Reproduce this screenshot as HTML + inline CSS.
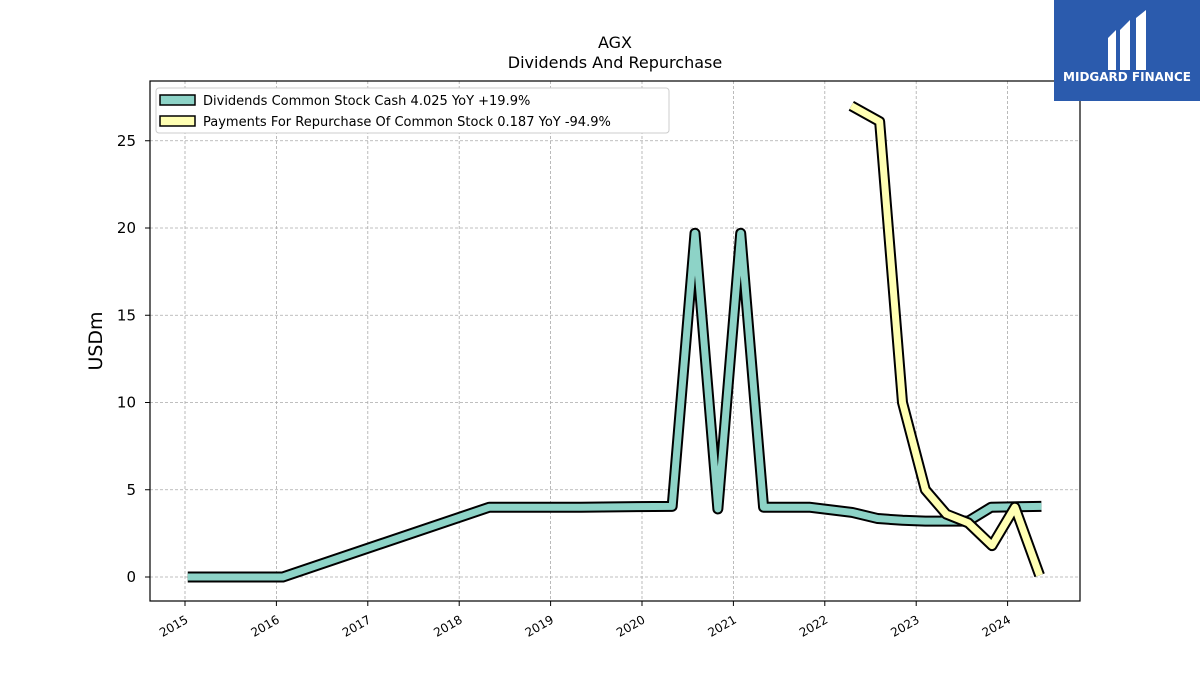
<!DOCTYPE html>
<html><head><meta charset="utf-8"><style>
body{margin:0;background:#fff;}
svg text{font-family:"DejaVu Sans","Liberation Sans",sans-serif;}
</style></head><body>
<svg id="chart" width="1200" height="675" viewBox="0 0 1200 675" xmlns="http://www.w3.org/2000/svg">
<rect width="1200" height="675" fill="#fff"/>
<text x="615" y="48" text-anchor="middle" font-size="16">AGX</text>
<text x="615" y="68" text-anchor="middle" font-size="16">Dividends And Repurchase</text>
<g id="grid"></g>
<g id="series"></g>
<rect x="150" y="81" width="930" height="520" fill="none" stroke="#000" stroke-width="1.2"/>
<g id="axes"></g>
<text transform="translate(102,341) rotate(-90)" text-anchor="middle" font-size="19">USDm</text>
<g>
<rect x="156" y="88" width="513" height="45" rx="3" fill="#fff" stroke="#ccc"/>
<rect x="160" y="95" width="35" height="10" fill="#8dd3c7" stroke="#000" stroke-width="1.5"/>
<text x="203" y="105" font-size="13">Dividends Common Stock Cash  4.025 YoY +19.9%</text>
<rect x="160" y="116" width="35" height="10" fill="#ffffb3" stroke="#000" stroke-width="1.5"/>
<text x="203" y="126" font-size="13">Payments For Repurchase Of Common Stock  0.187 YoY -94.9%</text>
</g>
<g>
<rect x="1054" y="0" width="146" height="101" fill="#2b5bad"/>
<path d="M1108 38 L1116 30 L1116 70 L1108 70 Z M1120 30 L1130 20 L1130 70 L1120 70 Z M1136 18 L1146 10 L1146 70 L1136 70 Z" fill="#fff"/>
<text x="1127" y="81" text-anchor="middle" font-size="12" font-weight="bold" fill="#fff">MIDGARD FINANCE</text>
</g>
</svg>
<script>
const yTicks=[0,5,10,15,20,25];
const xTickYears=[2015,2016,2017,2018,2019,2020,2021,2022,2023,2024];
const divDates=[2015.03,2016.07,2018.33,2019.33,2020.33,2020.58,2020.83,2021.08,2021.33,2021.83,2022.3,2022.58,2022.85,2023.1,2023.57,2023.82,2024.37];
const divValues=[0,0,4.0,4.0,4.05,19.7,3.9,19.7,4.0,4.0,3.7,3.35,3.25,3.2,3.2,4.0,4.05];
const repDates=[2022.29,2022.6,2022.85,2023.1,2023.33,2023.57,2023.83,2024.08,2024.35];
const repValues=[27.0,26.1,10.0,5.0,3.6,3.1,1.8,4.0,0.1];
const X=v=>185+(v-2015)*91.4;
const Y=v=>577-v*17.45;
const NS='http://www.w3.org/2000/svg';
const grid=document.getElementById('grid'),axes=document.getElementById('axes'),series=document.getElementById('series');
function mk(t,a,p){const e=document.createElementNS(NS,t);for(const k in a)e.setAttribute(k,a[k]);p.appendChild(e);return e;}
yTicks.forEach(v=>{
 const l=mk('line',{x1:150,x2:1080,y1:Y(v),y2:Y(v),stroke:'#aaa','stroke-dasharray':'3,2','stroke-width':0.8},grid);
 
 
 const t=mk('line',{x1:145,x2:150,y1:Y(v),y2:Y(v),stroke:'#000'},axes);
 
 
 const tx=mk('text',{x:136,y:Y(v)+5,'text-anchor':'end','font-size':15},axes);
 tx.textContent=v;
 
 
});
xTickYears.forEach(v=>{
 const l=mk('line',{x1:X(v),x2:X(v),y1:81,y2:601,stroke:'#aaa','stroke-dasharray':'3,2','stroke-width':0.8},grid);
 
 
 const t=mk('line',{x1:X(v),x2:X(v),y1:601,y2:606,stroke:'#000'},axes);
 
 
 const tx=mk('text',{x:X(v)+4,y:622,'text-anchor':'end','font-size':12,transform:`rotate(-30 ${X(v)+4} 622)`},axes);
 tx.textContent=v;
 
 
});
function drawLine(d,v,color,name){
 const pts=d.map((x,i)=>X(x)+','+Y(v[i])).join(' ');
 const o=mk('polyline',{points:pts,fill:'none',stroke:'#000','stroke-width':11,'stroke-linejoin':'round'},series);
 
 
 const l=mk('polyline',{points:pts,fill:'none',stroke:color,'stroke-width':7,'stroke-linejoin':'round'},series);
 
 
}
drawLine(divDates,divValues,'#8dd3c7','dividends');
drawLine(repDates,repValues,'#ffffb3','repurchase');
</script>
</body></html>
